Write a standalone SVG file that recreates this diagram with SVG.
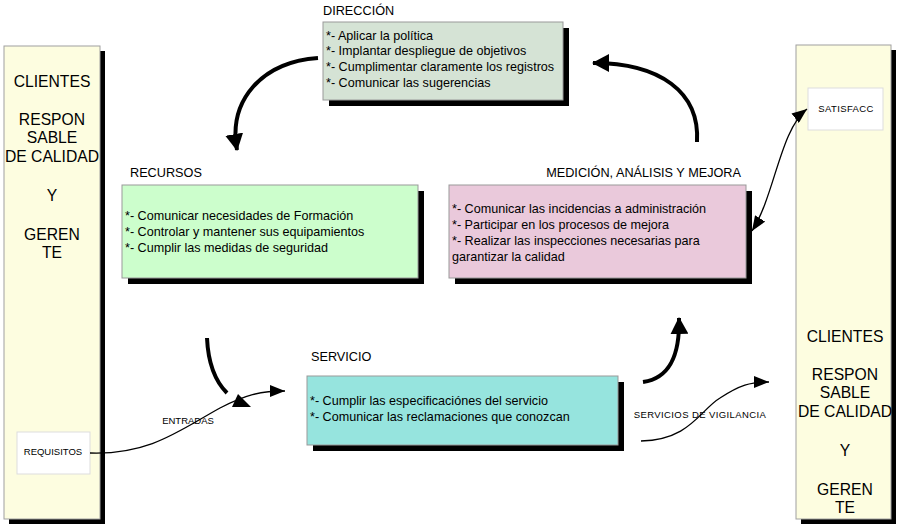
<svg xmlns="http://www.w3.org/2000/svg" width="900" height="527" viewBox="0 0 900 527">
<style>
text{font-family:"Liberation Sans",Arial,sans-serif;fill:#000}
.big{font-size:15.7px;text-anchor:middle}
.lbl{font-size:12.7px}
.item{font-size:12.6px}
.small{font-size:9.5px;text-anchor:middle}
.shadow{fill:#000}
.panel{fill:#fdfde0;stroke:#a0a0a0;stroke-width:1}
.wbox{fill:#fff;stroke:#ddd;stroke-width:1}
.box{stroke:#999;stroke-width:1}
.thick{fill:none;stroke:#000;stroke-width:4}
.thin{fill:none;stroke:#000;stroke-width:1.3}
</style>
<defs>
<marker id="ah" markerUnits="userSpaceOnUse" markerWidth="18" markerHeight="18" refX="16" refY="9" orient="auto"><path d="M0,0 L17,9 L0,18 Z" fill="#000"/></marker>
<marker id="at" markerUnits="userSpaceOnUse" markerWidth="16" markerHeight="12" refX="15" refY="6" orient="auto"><path d="M0,0 L15,6 L0,12 Z" fill="#000"/></marker>
<marker id="ats" markerUnits="userSpaceOnUse" markerWidth="16" markerHeight="12" refX="1" refY="6" orient="auto"><path d="M16,0 L1,6 L16,12 Z" fill="#000"/></marker>
</defs>

<g id="left-panel">
<rect class="shadow" x="9" y="51" width="96" height="473"/>
<rect class="panel" x="4" y="46" width="96" height="473"/>
<text class="big" x="52" y="87">CLIENTES</text>
<text class="big" x="52" y="125">RESPON</text>
<text class="big" x="52" y="143">SABLE</text>
<text class="big" x="52" y="162">DE CALIDAD</text>
<text class="big" x="52" y="201">Y</text>
<text class="big" x="52" y="240">GEREN</text>
<text class="big" x="52" y="258">TE</text>
</g>
<g id="requisitos">
<rect class="wbox" x="17" y="432" width="73" height="42"/>
<text class="small" x="53" y="455">REQUISITOS</text>
</g>

<g id="right-panel">
<rect class="shadow" x="801" y="50" width="95" height="474"/>
<rect class="panel" x="796" y="45" width="95" height="474"/>
<text class="big" x="845" y="342">CLIENTES</text>
<text class="big" x="845" y="380">RESPON</text>
<text class="big" x="845" y="398">SABLE</text>
<text class="big" x="845" y="417">DE CALIDAD</text>
<text class="big" x="845" y="456">Y</text>
<text class="big" x="845" y="495">GEREN</text>
<text class="big" x="845" y="513">TE</text>
</g>
<g id="satisfacc">
<rect class="wbox" x="808" y="88" width="75" height="42"/>
<text class="small" x="846" y="112" letter-spacing="0.4">SATISFACC</text>
</g>

<g id="direccion">
<text class="lbl" x="323" y="15">DIRECCIÓN</text>
<rect class="shadow" x="329" y="28" width="240" height="78"/>
<rect class="box" x="323" y="22" width="240" height="78" fill="#d5e3d5"/>
<text class="item" x="326" y="40">*- Aplicar la política</text>
<text class="item" x="326" y="55">*- Implantar despliegue de objetivos</text>
<text class="item" x="326" y="71">*- Cumplimentar claramente los registros</text>
<text class="item" x="326" y="87">*- Comunicar las sugerencias</text>
</g>

<g id="recursos">
<text class="lbl" x="130" y="177">RECURSOS</text>
<rect class="shadow" x="128" y="191" width="296" height="93"/>
<rect class="box" x="122" y="185" width="296" height="93" fill="#ccfecc"/>
<text class="item" x="125" y="220">*- Comunicar necesidades de Formación</text>
<text class="item" x="125" y="236">*- Controlar y mantener sus equipamientos</text>
<text class="item" x="125" y="252">*- Cumplir las medidas de seguridad</text>
</g>

<g id="medicion">
<text class="lbl" x="741" y="177" text-anchor="end">MEDICIÓN, ANÁLISIS Y MEJORA</text>
<rect class="shadow" x="455" y="191" width="297" height="93"/>
<rect class="box" x="449" y="185" width="297" height="93" fill="#eac9db"/>
<text class="item" x="452" y="213">*- Comunicar las incidencias a administración</text>
<text class="item" x="452" y="229">*- Participar en los procesos de mejora</text>
<text class="item" x="452" y="245">*- Realizar las inspecciones necesarias para</text>
<text class="item" x="452" y="261">garantizar la calidad</text>
</g>

<g id="servicio">
<text class="lbl" x="311" y="361">SERVICIO</text>
<rect class="shadow" x="313" y="382" width="311" height="69"/>
<rect class="box" x="307" y="376" width="311" height="69" fill="#96e4de"/>
<text class="item" x="310" y="405">*- Cumplir las especificaciónes del servicio</text>
<text class="item" x="310" y="421">*- Comunicar las reclamaciones que conozcan</text>
</g>

<g id="connectors">
<path class="thick" d="M318,58 C262,62 228,100 237,150" marker-end="url(#ah)"/>
<path class="thick" d="M697,142 C700,92 660,63 593,63" marker-end="url(#ah)"/>
<path class="thick" d="M207,338 C208,360 214,380 227,393"/>
<polygon points="238,394 232,407 251,407" fill="#000"/>
<path class="thick" d="M643,382 C670,378 680,355 679,318" marker-end="url(#ah)"/>
<path class="thin" d="M90,453 C150,455 180,430 220,408 C245,395 260,391 285,391" marker-end="url(#at)"/>
<text class="small" x="188" y="424">ENTRADAS</text>
<path class="thin" d="M641,441 C690,440 700,410 720,398 C740,385 750,382 769,382" marker-end="url(#at)"/>
<text class="small" x="700" y="418" letter-spacing="0.4">SERVICIOS DE VIGILANCIA</text>
<path class="thin" d="M752,231 C775,195 780,130 807,109" marker-start="url(#ats)" marker-end="url(#at)"/>
</g>
</svg>
